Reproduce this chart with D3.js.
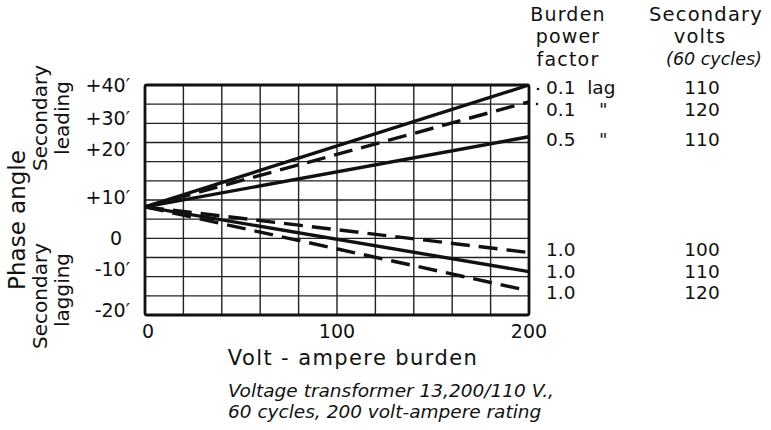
<!DOCTYPE html>
<html><head><meta charset="utf-8">
<script src="https://cdn.jsdelivr.net/npm/d3@7"></script>
<style>
body{margin:0;background:#fff;}
svg text{font-family:"DejaVu Sans","Liberation Sans",sans-serif;fill:#111;}
</style></head>
<body><svg id="c" width="771" height="430"></svg>
<script>
// Data
const burden = [0, 200];
const seriesNames = ["pf0.1_110","pf0.1_120","pf0.5_110","pf1.0_100","pf1.0_110","pf1.0_120"];
const seriesValues = [
  [8.2, 40.0],
  [8.2, 35.6],
  [8.2, 26.5],
  [8.2, -3.7],
  [8.2, -8.7],
  [8.2, -13.7]
];
const seriesDashed = [false, true, false, true, false, true];
const powerFactorLabels = ["0.1  lag", "0.1    \"", "0.5    \"", "1.0", "1.0", "1.0"];
const voltsLabels = ["110", "120", "110", "100", "110", "120"];
const yTickValues = [40, 30, 20, 10, 0, -10, -20];
const yTickLabels = ["+40\u2032", "+30\u2032", "+20\u2032", "+10\u2032", "0", "-10\u2032", "-20\u2032"];
const xTickValues = [0, 100, 200];

const svg = d3.select("#c");
const x = d3.scaleLinear().domain([0, 200]).range([145, 529]);
const y = d3.scaleLinear().domain([-20, 40]).range([315, 85]);

// grid
const g = svg.append("g");
g.selectAll("line.vx").data(d3.range(20, 200, 20)).join("line")
  .attr("x1", d => x(d)).attr("x2", d => x(d)).attr("y1", y(40)).attr("y2", y(-20))
  .attr("stroke", "#222").attr("stroke-width", 1.4);
g.selectAll("line.hy").data(d3.range(-15, 40, 5)).join("line")
  .attr("y1", d => y(d)).attr("y2", d => y(d)).attr("x1", x(0)).attr("x2", x(200))
  .attr("stroke", "#222").attr("stroke-width", 1.4);
g.append("rect").attr("x", x(0)).attr("y", y(40)).attr("width", x(200) - x(0)).attr("height", y(-20) - y(40))
  .attr("fill", "none").attr("stroke", "#111").attr("stroke-width", 2.8).attr("rx", 2);

// lines
const line = d3.line().x((d, i) => x(burden[i])).y(d => y(d));
seriesValues.forEach((vals, i) => {
  svg.append("path").attr("d", line(vals)).attr("fill", "none")
    .attr("stroke", "#111").attr("stroke-width", 3.4)
    .attr("stroke-linecap", "butt")
    .attr("stroke-dasharray", seriesDashed[i] ? "19,9" : null);
});

// y ticks
const yOffsets = [0, -5, -12, -3, 0, -7, -5];
svg.selectAll("text.yt").data(yTickValues).join("text")
  .attr("x", (d, i) => d === 0 ? 122 : 130)
  .attr("y", (d, i) => y(d) + yOffsets[i])
  .attr("dy", "0.35em").attr("text-anchor", "end")
  .attr("font-size", 19).text((d, i) => yTickLabels[i]);

// x ticks
svg.selectAll("text.xt").data(xTickValues).join("text")
  .attr("x", d => x(d) + (d === 0 ? 3 : 0)).attr("y", 331)
  .attr("dy", "0.35em").attr("text-anchor", "middle")
  .attr("font-size", 19).text(d => d);

// axis titles
svg.append("text").attr("x", 353).attr("y", 358).attr("dy", "0.35em").attr("text-anchor", "middle")
  .attr("font-size", 21).attr("letter-spacing", 1.4).text("Volt - ampere burden");
svg.append("text").attr("transform", "translate(17,220) rotate(-90)").attr("dy", "0.35em")
  .attr("text-anchor", "middle").attr("font-size", 23).text("Phase angle");
svg.append("text").attr("transform", "translate(40,118) rotate(-90)").attr("dy", "0.35em")
  .attr("text-anchor", "middle").attr("font-size", 20).text("Secondary");
svg.append("text").attr("transform", "translate(62,118) rotate(-90)").attr("dy", "0.35em")
  .attr("text-anchor", "middle").attr("font-size", 20).text("leading");
svg.append("text").attr("transform", "translate(40,296) rotate(-90)").attr("dy", "0.35em")
  .attr("text-anchor", "middle").attr("font-size", 20).text("Secondary");
svg.append("text").attr("transform", "translate(62,290) rotate(-90)").attr("dy", "0.35em")
  .attr("text-anchor", "middle").attr("font-size", 20).text("lagging");

// caption
svg.append("text").attr("x", 228).attr("y", 391).attr("dy", "0.35em").attr("font-size", 18.5)
  .attr("font-style", "italic").text("Voltage transformer 13,200/110 V.,");
svg.append("text").attr("x", 228).attr("y", 412).attr("dy", "0.35em").attr("font-size", 18.5)
  .attr("font-style", "italic").text("60 cycles, 200 volt-ampere rating");

// right headings
const hd = [["Burden", 14], ["power", 36], ["factor", 59]];
hd.forEach(([t, yy]) => svg.append("text").attr("x", 568).attr("y", yy).attr("dy", "0.35em")
  .attr("text-anchor", "middle").attr("font-size", 19).attr("letter-spacing", 1.2).text(t));
const hd2 = [["Secondary", 14, "normal", 706], ["volts", 36, "normal", 700], ["(60 cycles)", 59, "italic", 714]];
hd2.forEach(([t, yy, st, xx]) => svg.append("text").attr("x", xx).attr("y", yy).attr("dy", "0.35em")
  .attr("text-anchor", "middle").attr("font-size", st === "italic" ? 17.5 : 19.5)
  .attr("letter-spacing", st === "italic" ? 0 : 1.2).attr("font-style", st).text(t));

// row labels
const rowY = [88, 110, 140, 250, 272, 293];
svg.selectAll("text.pf").data(powerFactorLabels).join("text")
  .attr("x", 546).attr("y", (d, i) => rowY[i]).attr("dy", "0.35em")
  .attr("font-size", 18.5).style("white-space", "pre").text(d => d);
svg.selectAll("text.vo").data(voltsLabels).join("text")
  .attr("x", 702).attr("y", (d, i) => rowY[i]).attr("dy", "0.35em").attr("text-anchor", "middle")
  .attr("font-size", 18.5).text(d => d);
// leader dots
[[538, 89], [537, 104]].forEach(([xx, yy]) => svg.append("circle").attr("cx", xx).attr("cy", yy).attr("r", 1.3).attr("fill", "#111"));
</script></body></html>
